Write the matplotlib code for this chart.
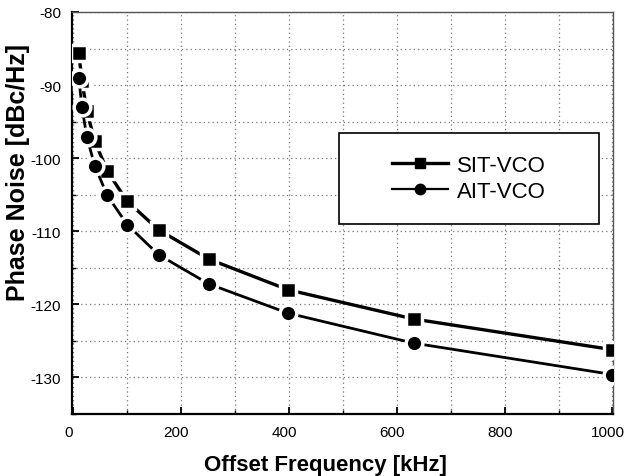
import matplotlib
matplotlib.use('Agg')
import matplotlib.pyplot as plt
import matplotlib.transforms as mtransforms
from matplotlib.patches import Rectangle
import numpy as np

# offset frequencies (kHz) and phase noise (dBc/Hz)
freq = [10, 16, 25, 40, 63, 100, 158, 251, 398, 631, 1000]
sit_vco = [-85.6, -89.4, -93.6, -97.7, -101.8, -105.9, -109.8, -113.8, -118.0, -122.0, -126.2]
ait_vco = [-89.0, -93.0, -97.1, -101.1, -105.1, -109.1, -113.2, -117.2, -121.2, -125.3, -129.6]

plt.rcParams['font.family'] = ['Liberation Sans', 'DejaVu Sans']
plt.rcParams['axes.unicode_minus'] = False

fig = plt.figure(figsize=(6.28, 4.77), dpi=100)
ax = fig.add_axes([72 / 628, 62 / 477, 541 / 628, 402 / 477])

# white marker edges leave a small gap between line and symbol
l1, = ax.plot(freq, sit_vco, color='black', lw=2.4, marker='s', ms=12,
              mec='white', mew=2.5, label='SIT-VCO', zorder=3)
l2, = ax.plot(freq, ait_vco, color='black', lw=2.0, marker='o', ms=12,
              mec='white', mew=2.5, label='AIT-VCO', zorder=3)

ax.set_xlim(-2.5, 1001)
ax.set_ylim(-135, -80)
ax.set_xticks(np.arange(0, 1001, 200))
ax.set_xticks(np.arange(0, 1001, 100), minor=True)
ax.set_yticks(np.arange(-130, -79, 10))
ax.set_yticks(np.arange(-135, -79, 5), minor=True)
ax.grid(which='both', color='#777777', linestyle=(0, (1, 2.5)), linewidth=0.9)
ax.tick_params(which='both', direction='in', labelsize=11)
ax.tick_params(which='major', length=5, width=1.3)
ax.tick_params(which='minor', length=3, width=1.0)
ax.tick_params(axis='x', pad=8)
ax.tick_params(axis='y', pad=8)
for side in ['left', 'bottom']:
    ax.spines[side].set_linewidth(1.6)
for side in ['top', 'right']:
    ax.spines[side].set_linewidth(1.0)
    ax.spines[side].set_color('#555555')

# nudge x tick labels a little to the left
shift = mtransforms.ScaledTranslation(-5 / 100, 0, fig.dpi_scale_trans)
for lbl in ax.get_xticklabels():
    lbl.set_transform(lbl.get_transform() + shift)

ax.set_xlabel('Offset Frequency [kHz]', fontsize=16, fontweight='bold', labelpad=9)
ax.xaxis.set_label_coords(0.468, -0.1)
ax.xaxis.label.set_verticalalignment('top')
ax.set_ylabel('Phase Noise [dBc/Hz]', fontsize=18, fontweight='bold')
ax.yaxis.set_label_coords(-0.078, 0.604)

# legend box
ax.add_patch(Rectangle((0.4935, 0.473), 0.4805, 0.226, transform=ax.transAxes,
                       fill=True, facecolor='white', edgecolor='black', lw=1.2, zorder=4))
leg = ax.legend(loc='center', bbox_to_anchor=(0.734, 0.586), fontsize=16,
                frameon=False, handlelength=2.5, handletextpad=0.4,
                borderaxespad=0, labelspacing=0.2)
leg.set_zorder(5)
for h, w in zip(leg.legend_handles, [2.4, 1.6]):
    h.set_markersize(7.5)
    h.set_markeredgecolor('black')
    h.set_markeredgewidth(1)
    h.set_linewidth(w)

fig.savefig('out.png', dpi=100)
